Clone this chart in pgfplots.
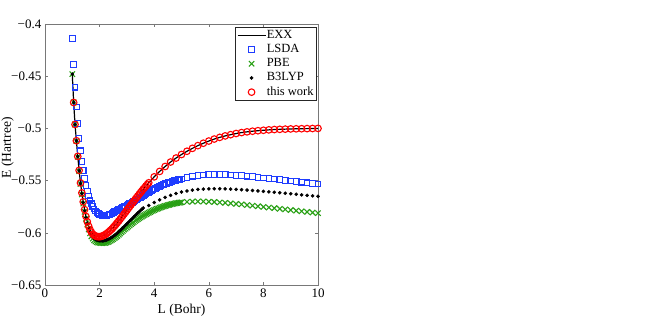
\documentclass[border=0pt]{standalone}
\usepackage{fontspec}
\setmainfont{Liberation Serif}
\usepackage{pgfplots}
\pgfplotsset{compat=1.18}
\usepackage{pgfplotstable}
\definecolor{lsdablue}{RGB}{30,60,255}
\definecolor{pbegreen}{RGB}{40,160,20}
\definecolor{workred}{RGB}{255,0,0}
\definecolor{framegray}{RGB}{120,120,120}

% EXX (line) and this work (circles, from L=1.05)
\pgfplotstableread{
L E
1.00 -0.4485
1.05 -0.4752
1.10 -0.4962
1.15 -0.5118
1.20 -0.5268
1.25 -0.5402
1.30 -0.5522
1.35 -0.5618
1.40 -0.5703
1.45 -0.5778
1.50 -0.5843
1.55 -0.5895
1.60 -0.5937
1.65 -0.5970
1.70 -0.5995
1.75 -0.6013
1.80 -0.6024
1.85 -0.6031
1.90 -0.6035
1.95 -0.6037
2.00 -0.6037
2.05 -0.6035
2.10 -0.6031
2.15 -0.6025
2.20 -0.6018
2.25 -0.6009
2.30 -0.5999
2.35 -0.5988
2.40 -0.5976
2.45 -0.5963
2.50 -0.5949
2.55 -0.5934
2.60 -0.5919
2.65 -0.5903
2.70 -0.5887
2.75 -0.5870
2.80 -0.5853
2.85 -0.5836
2.90 -0.5819
2.95 -0.5802
3.00 -0.5784
3.05 -0.5767
3.10 -0.5749
3.15 -0.5732
3.20 -0.5715
3.25 -0.5698
3.30 -0.5681
3.35 -0.5664
3.40 -0.5647
3.45 -0.5631
3.50 -0.5614
3.55 -0.5598
3.60 -0.5582
3.65 -0.5567
3.70 -0.5551
3.75 -0.5536
3.80 -0.5521
4.0 -0.5464
4.2 -0.5412
4.4 -0.5365
4.6 -0.5322
4.8 -0.5284
5.0 -0.5250
5.2 -0.5219
5.4 -0.5191
5.6 -0.5165
5.8 -0.5142
6.0 -0.5121
6.2 -0.5102
6.4 -0.5086
6.6 -0.5072
6.8 -0.5060
7.0 -0.5049
7.2 -0.5040
7.4 -0.5033
7.6 -0.5027
7.8 -0.5022
8.0 -0.5018
8.2 -0.5014
8.4 -0.5011
8.6 -0.5009
8.8 -0.5007
9.0 -0.5005
9.2 -0.5004
9.4 -0.5003
9.6 -0.5002
9.8 -0.5001
10.0 -0.5000
}\exxdata

\pgfplotstableread{
L E
1.00 -0.4140
1.05 -0.4390
1.10 -0.4605
1.15 -0.4795
1.20 -0.4955
1.25 -0.5095
1.30 -0.5215
1.35 -0.5318
1.40 -0.5405
1.45 -0.5480
1.50 -0.5545
1.55 -0.5600
1.60 -0.5648
1.65 -0.5688
1.70 -0.5722
1.75 -0.5750
1.80 -0.5773
1.85 -0.5792
1.90 -0.5806
1.95 -0.5817
2.00 -0.5826
2.05 -0.5830
2.10 -0.5833
2.15 -0.5834
2.20 -0.5834
2.25 -0.5832
2.30 -0.5829
2.35 -0.5825
2.40 -0.5820
2.45 -0.5813
2.50 -0.5806
2.55 -0.5799
2.60 -0.5792
2.65 -0.5785
2.70 -0.5778
2.75 -0.5771
2.80 -0.5764
2.85 -0.5757
2.90 -0.5750
2.95 -0.5743
3.00 -0.5736
3.05 -0.5729
3.10 -0.5722
3.15 -0.5715
3.20 -0.5707
3.25 -0.5699
3.30 -0.5691
3.35 -0.5683
3.40 -0.5675
3.45 -0.5667
3.50 -0.5659
3.55 -0.5651
3.60 -0.5643
3.65 -0.5635
3.70 -0.5627
3.75 -0.5619
3.80 -0.5611
3.85 -0.5603
3.90 -0.5596
3.95 -0.5588
4.00 -0.5581
4.05 -0.5574
4.10 -0.5567
4.15 -0.5560
4.20 -0.5554
4.25 -0.5548
4.30 -0.5542
4.35 -0.5536
4.40 -0.5531
4.45 -0.5526
4.50 -0.5521
4.55 -0.5516
4.60 -0.5512
4.65 -0.5508
4.70 -0.5504
4.75 -0.5500
4.80 -0.5497
4.85 -0.5494
4.90 -0.5491
4.95 -0.5488
5.00 -0.5485
5.2 -0.5470
5.4 -0.5458
5.6 -0.5450
5.8 -0.5445
6.0 -0.5442
6.2 -0.5441
6.4 -0.5441
6.6 -0.5443
6.8 -0.5446
7.0 -0.5449
7.2 -0.5453
7.4 -0.5458
7.6 -0.5463
7.8 -0.5468
8.0 -0.5474
8.2 -0.5479
8.4 -0.5485
8.6 -0.5491
8.8 -0.5497
9.0 -0.5503
9.2 -0.5509
9.4 -0.5515
9.6 -0.5521
9.8 -0.5527
10.0 -0.5533
}\lsdadata

\pgfplotstableread{
L E
1.00 -0.4480
1.05 -0.4750
1.10 -0.4962
1.15 -0.5120
1.20 -0.5272
1.25 -0.5410
1.30 -0.5532
1.35 -0.5632
1.40 -0.5720
1.45 -0.5798
1.50 -0.5866
1.55 -0.5922
1.60 -0.5968
1.65 -0.6005
1.70 -0.6034
1.75 -0.6056
1.80 -0.6072
1.85 -0.6083
1.90 -0.6090
1.95 -0.6094
2.00 -0.6096
2.05 -0.6098
2.10 -0.6099
2.15 -0.6099
2.20 -0.6097
2.25 -0.6094
2.30 -0.6089
2.35 -0.6083
2.40 -0.6076
2.45 -0.6068
2.50 -0.6060
2.55 -0.6050
2.60 -0.6040
2.65 -0.6029
2.70 -0.6018
2.75 -0.6006
2.80 -0.5994
2.85 -0.5982
2.90 -0.5970
2.95 -0.5960
3.00 -0.5950
3.05 -0.5939
3.10 -0.5928
3.15 -0.5917
3.20 -0.5907
3.25 -0.5897
3.30 -0.5887
3.35 -0.5878
3.40 -0.5869
3.45 -0.5860
3.50 -0.5852
3.55 -0.5844
3.60 -0.5836
3.65 -0.5829
3.70 -0.5822
3.75 -0.5815
3.80 -0.5808
3.85 -0.5801
3.90 -0.5795
3.95 -0.5789
4.00 -0.5783
4.05 -0.5777
4.10 -0.5771
4.15 -0.5766
4.20 -0.5761
4.25 -0.5756
4.30 -0.5751
4.35 -0.5747
4.40 -0.5743
4.45 -0.5739
4.50 -0.5735
4.55 -0.5731
4.60 -0.5728
4.65 -0.5725
4.70 -0.5722
4.75 -0.5719
4.80 -0.5716
4.85 -0.5714
4.90 -0.5712
4.95 -0.5710
5.00 -0.5708
5.2 -0.5704
5.4 -0.5701
5.6 -0.5700
5.8 -0.5700
6.0 -0.5702
6.2 -0.5705
6.4 -0.5709
6.6 -0.5713
6.8 -0.5718
7.0 -0.5723
7.2 -0.5728
7.4 -0.5734
7.6 -0.5740
7.8 -0.5746
8.0 -0.5752
8.2 -0.5758
8.4 -0.5764
8.6 -0.5770
8.8 -0.5776
9.0 -0.5782
9.2 -0.5788
9.4 -0.5794
9.6 -0.5800
9.8 -0.5806
10.0 -0.5812
}\pbedata

\pgfplotstableread{
L E
1.00 -0.4480
1.05 -0.4752
1.10 -0.4963
1.15 -0.5118
1.20 -0.5270
1.25 -0.5406
1.30 -0.5527
1.35 -0.5625
1.40 -0.5711
1.45 -0.5788
1.50 -0.5855
1.55 -0.5911
1.60 -0.5956
1.65 -0.5992
1.70 -0.6020
1.75 -0.6040
1.80 -0.6054
1.85 -0.6064
1.90 -0.6070
1.95 -0.6074
2.00 -0.6076
2.05 -0.6077
2.10 -0.6077
2.15 -0.6076
2.20 -0.6073
2.25 -0.6069
2.30 -0.6064
2.35 -0.6058
2.40 -0.6051
2.45 -0.6043
2.50 -0.6034
2.55 -0.6024
2.60 -0.6014
2.65 -0.6003
2.70 -0.5991
2.75 -0.5979
2.80 -0.5967
2.85 -0.5954
2.90 -0.5941
2.95 -0.5928
3.00 -0.5915
3.05 -0.5902
3.10 -0.5888
3.15 -0.5875
3.20 -0.5862
3.25 -0.5849
3.30 -0.5836
3.35 -0.5823
3.40 -0.5810
3.45 -0.5798
3.50 -0.5786
3.55 -0.5774
3.60 -0.5762
3.8 -0.5738
4.0 -0.5710
4.2 -0.5684
4.4 -0.5661
4.6 -0.5641
4.8 -0.5624
5.0 -0.5610
5.2 -0.5599
5.4 -0.5591
5.6 -0.5585
5.8 -0.5581
6.0 -0.5579
6.2 -0.5578
6.4 -0.5578
6.6 -0.5579
6.8 -0.5581
7.0 -0.5584
7.2 -0.5587
7.4 -0.5591
7.6 -0.5595
7.8 -0.5599
8.0 -0.5603
8.2 -0.5607
8.4 -0.5612
8.6 -0.5617
8.8 -0.5621
9.0 -0.5626
9.2 -0.5631
9.4 -0.5636
9.6 -0.5641
9.8 -0.5646
10.0 -0.5651
}\blypdata

\begin{document}
\begin{tikzpicture}
\useasboundingbox (-45pt,-36pt) rectangle (615pt,285pt);
\begin{axis}[
  at={(0pt,0pt)},anchor=south west,
  scale only axis,width=273pt,height=261pt,
  xmin=0,xmax=10,ymin=-0.65,ymax=-0.4,
  clip marker paths=false,
  xtick={0,2,4,6,8,10},
  xticklabels={0,2,4,6,8,10},
  ytick={-0.65,-0.6,-0.55,-0.5,-0.45,-0.4},
  yticklabels={−0.65,−0.6,−0.55,−0.5,−0.45,−0.4},
  tick align=inside,tick pos=both,
  major tick length=3pt,
  axis line style={draw=framegray,line width=0.6pt},
  every tick/.style={draw=framegray,line width=0.6pt},
  tick label style={font=\fontsize{13}{15}\selectfont,inner sep=0pt},
  xticklabel style={anchor=north,yshift=-4pt},
  yticklabel style={anchor=east,xshift=-3.5pt},
  xlabel={L (Bohr)},
  ylabel={E (Hartree)},
  label style={font=\fontsize{13.5}{16}\selectfont},
  xlabel style={at={(axis description cs:0.5,0)},anchor=base,yshift=-28pt},
  ylabel style={at={(axis description cs:0,0.525)},anchor=base,yshift=34pt},
  legend style={at={(1,1)},anchor=north east,xshift=-1.5pt,yshift=-3pt,
    draw=black!85,line width=0.5pt,fill=white,
    font=\fontsize{12.5}{14}\selectfont,
    inner xsep=2pt,inner ysep=1pt,row sep=0pt,
    nodes={inner sep=0.6pt,text height=9.5pt,text depth=3.5pt}},
  legend cell align=left,
  legend image code/.code={\draw[mark repeat=2,mark phase=2,#1]
    plot coordinates {(0pt,0pt) (14pt,0pt) (28pt,0pt)};},
]
\addplot[draw=black,line width=1.2pt,no markers] table[x=L,y=E] {\exxdata};
\addlegendentry{EXX}
\addplot[lsdablue,only marks,mark=square,mark size=2.8pt,
  mark options={solid,draw=lsdablue,fill=none,line width=1.1pt}] table[x=L,y=E] {\lsdadata};
\addlegendentry{LSDA}
\addplot[pbegreen,only marks,mark=x,mark size=3.8pt,
  mark options={solid,draw=pbegreen,line width=1.1pt}] table[x=L,y=E] {\pbedata};
\addlegendentry{PBE}
\addplot[black,only marks,mark=*,mark size=1.6pt,
  mark options={draw=black,fill=black}] table[x=L,y=E] {\blypdata};
\addlegendentry{B3LYP}
\addplot[workred,only marks,mark=o,mark size=3.3pt,
  mark options={solid,draw=workred,fill=none,line width=1.1pt},
  restrict x to domain=1.02:10] table[x=L,y=E] {\exxdata};
\addlegendentry{this work}
\end{axis}
\end{tikzpicture}
\end{document}
